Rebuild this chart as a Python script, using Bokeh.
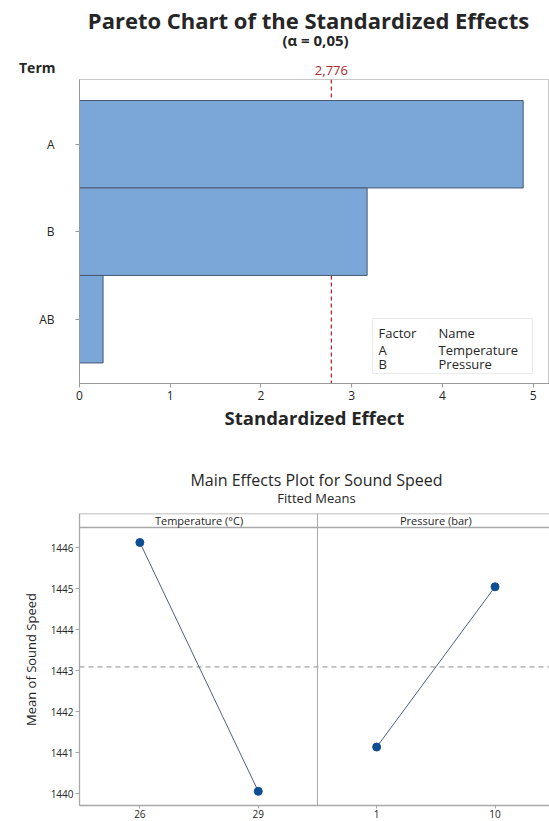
from bokeh.plotting import figure
from bokeh.models import Range1d, Span, Label, BoxAnnotation
from bokeh.layouts import column
from bokeh.embed import file_html
from bokeh.resources import INLINE

FONT = "Open Sans"
TXT = "#262626"

# ---------------- data ----------------
terms = ["A", "B", "AB"]
effects = [4.89, 3.17, 0.26]
t_crit = 2.776
x_ticks_top = [0, 1, 2, 3, 4, 5]
factor_codes = ["A", "B"]
factor_names = ["Temperature", "Pressure"]

temp_levels = ["26", "29"]
temp_means = [1446.13, 1440.06]
press_levels = ["1", "10"]
press_means = [1441.14, 1445.05]
y_ticks_bottom = [1440, 1441, 1442, 1443, 1444, 1445, 1446]

W = 549
FL = 79          # common left border of every frame
FR = 0           # common right border


def lab(p, text, x, y, size, style="normal", align="center", color=TXT, xu="screen", yu="screen"):
    p.add_layout(Label(x=x, y=y, x_units=xu, y_units=yu, text=text, text_font=FONT,
                       text_font_size=size, text_font_style=style, text_color=color,
                       text_align=align, text_baseline="middle"))


# ---------------- Pareto chart ----------------
n = len(terms)
ypos = [n - i for i in range(n)]
x_range_top = Range1d(0, 5.18)

H1 = 78
hdr1 = figure(width=W, height=H1, x_range=x_range_top, y_range=Range1d(0, H1),
              output_backend="svg", toolbar_location=None, x_axis_location=None,
              min_border_left=FL, min_border_right=FR, min_border_top=0, min_border_bottom=0)
hdr1.grid.visible = False
hdr1.outline_line_color = None
ya = hdr1.yaxis[0]
ya.ticker = [H1 - 67]
ya.major_label_overrides = {H1 - 67: "Term"}
ya.axis_line_color = None
ya.major_tick_line_color = None
ya.minor_tick_line_color = None
ya.major_tick_out = 0
ya.major_tick_in = 0
ya.major_label_standoff = 24
ya.major_label_text_font = FONT
ya.major_label_text_font_size = "14px"
ya.major_label_text_font_style = "bold"
ya.major_label_text_color = TXT

lab(hdr1, "Pareto Chart of the Standardized Effects", 229, H1 - 19, "22px", "bold", yu="data")
lab(hdr1, "(α = 0,05)", 236, H1 - 39, "15px", "bold", yu="data")
lab(hdr1, f"{t_crit:.3f}".replace(".", ","), t_crit, H1 - 69.5, "13px", "normal", "center",
    "#a8282e", xu="data", yu="data")

p1 = figure(width=W, height=374, x_range=x_range_top, y_range=Range1d(0.265, 3.74),
            output_backend="svg", toolbar_location=None,
            min_border_left=FL, min_border_right=FR, min_border_top=1, min_border_bottom=69)
p1.grid.visible = False
p1.outline_line_color = "#c8c8c8"

p1.add_layout(Span(location=t_crit, dimension="height", line_color="#b02a30",
                   line_dash="4 3", line_width=1.3, level="underlay"))
p1.hbar(y=ypos, left=0, right=effects, height=1, fill_color="#7ba6d8",
        line_color="#4a5a72", line_width=1)

p1.xaxis.ticker = x_ticks_top
p1.yaxis.ticker = ypos
p1.yaxis.major_label_overrides = {y: t for y, t in zip(ypos, terms)}
for ax in (p1.xaxis[0], p1.yaxis[0]):
    ax.axis_line_color = "#999999"
    ax.major_tick_line_color = "#999999"
    ax.minor_tick_line_color = None
    ax.major_tick_out = 4
    ax.major_tick_in = 0
    ax.major_label_text_font = FONT
    ax.major_label_text_font_size = "12px"
    ax.major_label_text_color = TXT
p1.yaxis.major_label_standoff = 21
p1.xaxis.major_label_standoff = 3
p1.xaxis.axis_label = "Standardized Effect"
p1.xaxis.axis_label_text_font = FONT
p1.xaxis.axis_label_text_font_size = "18.5px"
p1.xaxis.axis_label_text_font_style = "bold"
p1.xaxis.axis_label_text_color = TXT
p1.xaxis.axis_label_standoff = 2

p1.add_layout(BoxAnnotation(left=293, right=453, bottom=10, top=65,
                            left_units="screen", right_units="screen",
                            bottom_units="screen", top_units="screen",
                            fill_color="white", fill_alpha=1, line_color="#bdbdbd", line_width=1))
rows_y = [50.7, 34, 19.7]
lab(p1, "Factor", 299, rows_y[0], "13px", "normal", "left")
lab(p1, "Name", 359, rows_y[0], "13px", "normal", "left")
for code, name, yy in zip(factor_codes, factor_names, rows_y[1:]):
    lab(p1, code, 299, yy, "13px", "normal", "left")
    lab(p1, name, 359, yy, "13px", "normal", "left")

# ---------------- Main effects plot ----------------
xs_temp = list(range(len(temp_levels)))
xs_press = [len(temp_levels) + i for i in range(len(press_levels))]
all_means = temp_means + press_means
grand_mean = sum(all_means) / len(all_means)

y_lo, y_hi = 1439.715, 1446.837
header_bottom = 1446.495

hdr2 = figure(width=W, height=60, x_range=Range1d(0, 1), y_range=Range1d(0, 1),
              output_backend="svg", toolbar_location=None,
              x_axis_location=None, y_axis_location=None,
              min_border_left=FL, min_border_right=FR, min_border_top=0, min_border_bottom=0)
hdr2.grid.visible = False
hdr2.outline_line_color = None
lab(hdr2, "Main Effects Plot for Sound Speed", 316 - FL, 33, "16px")
lab(hdr2, "Fitted Means", 316 - FL, 15, "13px")

p2 = figure(width=W, height=309, x_range=Range1d(-0.51, 3.46), y_range=Range1d(y_lo, y_hi),
            output_backend="svg", toolbar_location=None,
            min_border_left=FL, min_border_right=FR, min_border_top=1, min_border_bottom=16)
p2.grid.visible = False
p2.outline_line_color = None

p2.add_layout(Span(location=grand_mean, dimension="width", line_color="#8c8c8c",
                   line_dash="5 4", line_width=1, level="underlay"))
p2.add_layout(Span(location=1.5, dimension="height", line_color="#a8a8a8", line_width=1))
p2.add_layout(Span(location=header_bottom, dimension="width", line_color="#a8a8a8", line_width=1.3))
p2.add_layout(Span(location=y_hi, dimension="width", line_color="#a8a8a8", line_width=1.3))

for xs, ys in ((xs_temp, temp_means), (xs_press, press_means)):
    p2.line(xs, ys, line_color="#4d6182", line_width=1)
    p2.scatter(xs, ys, size=8, fill_color="#0e4e93", line_color="#0e4e93")

p2.xaxis.ticker = xs_temp + xs_press
p2.xaxis.major_label_overrides = {x: t for x, t in zip(xs_temp + xs_press, temp_levels + press_levels)}
p2.yaxis.ticker = y_ticks_bottom
for ax in (p2.xaxis[0], p2.yaxis[0]):
    ax.axis_line_color = "#a8a8a8"
    ax.axis_line_width = 1.3
    ax.major_tick_line_color = "#a8a8a8"
    ax.minor_tick_line_color = None
    ax.major_tick_out = 4
    ax.major_tick_in = 0
    ax.major_label_text_font = FONT
    ax.major_label_text_font_size = "10px"
    ax.major_label_text_color = TXT
p2.xaxis.major_tick_out = 3
p2.xaxis.major_label_standoff = 1
p2.yaxis.major_label_standoff = 2
p2.yaxis.axis_label = "Mean of Sound Speed"
p2.yaxis.axis_label_text_font = FONT
p2.yaxis.axis_label_text_font_size = "13px"
p2.yaxis.axis_label_text_font_style = "normal"
p2.yaxis.axis_label_text_color = TXT
p2.yaxis.axis_label_standoff = 8

hdr_mid = (header_bottom + y_hi) / 2
lab(p2, "Temperature (°C)", sum(xs_temp) / len(xs_temp), hdr_mid, "11px", xu="data", yu="data")
lab(p2, "Pressure (bar)", sum(xs_press) / len(xs_press), hdr_mid, "11px", xu="data", yu="data")

layout = column(hdr1, p1, hdr2, p2, spacing=0)
open("out.html", "w").write(file_html(layout, INLINE))
